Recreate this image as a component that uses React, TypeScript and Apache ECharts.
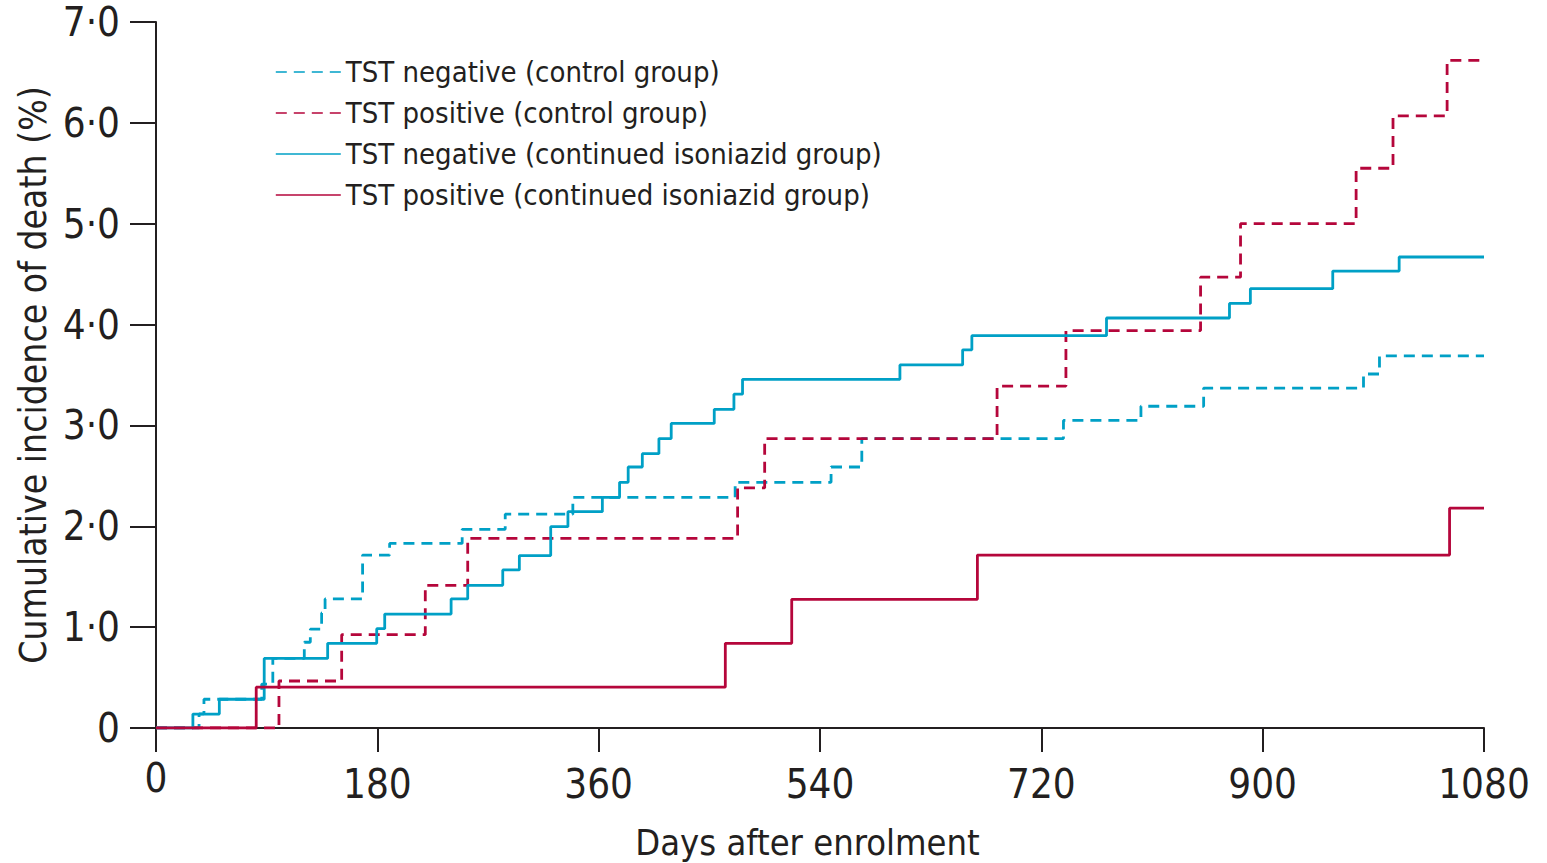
import React, { useEffect, useRef } from "react";
import * as echarts from "echarts";

const seriesNames = [
  "TST negative (control group)",
  "TST positive (control group)",
  "TST negative (continued isoniazid group)",
  "TST positive (continued isoniazid group)",
];

// [day, cumulative incidence %] — value after the step at that day
const negControl: [number, number][] = [
  [0, 0], [35, 0.14], [39, 0.285], [86, 0.436], [95, 0.69], [120.6, 0.85],
  [125.5, 0.98], [134.7, 1.14], [137.5, 1.28], [168, 1.715], [190, 1.83],
  [249, 1.97], [284, 2.12], [339, 2.287], [471, 2.436], [549, 2.588],
  [574, 2.87], [738, 3.05], [801, 3.19], [852, 3.37], [982, 3.51],
  [995, 3.69], [1080, 3.69],
];

const posControl: [number, number][] = [
  [0, 0], [100, 0.466], [151, 0.925], [219, 1.415], [253.5, 1.88],
  [473, 2.38], [495, 2.87], [684, 3.39], [740, 3.94], [849.5, 4.47],
  [882, 5.0], [976, 5.55], [1006, 6.07], [1050, 6.62], [1080, 6.62],
];

const negIsoniazid: [number, number][] = [
  [0, 0], [30, 0.138], [51.5, 0.285], [88, 0.69], [139.6, 0.84],
  [179.5, 0.985], [186, 1.13], [240, 1.28], [253.5, 1.415], [282, 1.567],
  [295.5, 1.71], [321, 1.996], [335, 2.145], [363, 2.287], [377, 2.436],
  [384, 2.588], [395.5, 2.72], [409, 2.87], [419, 3.02], [454, 3.16],
  [470, 3.31], [477, 3.457], [605, 3.6], [656, 3.75], [663.5, 3.89],
  [773, 4.065], [873, 4.21], [890, 4.356], [957, 4.53], [1011, 4.67],
  [1080, 4.67],
];

const posIsoniazid: [number, number][] = [
  [0, 0], [81.5, 0.405], [463, 0.84], [517, 1.276], [668, 1.715],
  [1052, 2.18], [1080, 2.18],
];

const xTicks = [0, 180, 360, 540, 720, 900, 1080];
const yTickLabels = ["0", "1·0", "2·0", "3·0", "4·0", "5·0", "6·0", "7·0"];

const BLUE = "#00a0c6";
const RED = "#b5063b";
const INK = "#231f20";
const FONT = "'DejaVu Sans Condensed', 'DejaVu Sans', sans-serif";

export default function App() {
  const ref = useRef<HTMLDivElement>(null);

  useEffect(() => {
    if (!ref.current) return;
    const prevMargin = document.body.style.margin;
    document.body.style.margin = "0";
    const chart = echarts.init(ref.current, undefined, { renderer: "svg" });

    const mk = (name: string, data: [number, number][], color: string, dashed: boolean) => ({
      name,
      type: "line",
      step: "end",
      data,
      symbol: "none",
      lineStyle: { color, width: 2.8, type: dashed ? [11, 7] : "solid" },
      itemStyle: { color },
    });

    chart.setOption({
      animation: false,
      backgroundColor: "#ffffff",
      grid: {
        left: 156,
        right: 63,
        top: 22,
        bottom: 135,
        containLabel: false,
        outerBoundsMode: "none",
      },
      legend: {
        orient: "vertical",
        left: 275,
        top: 56,
        padding: 0,
        itemWidth: 65,
        itemHeight: 14,
        itemGap: 9,
        data: seriesNames,
        lineStyle: { width: 1.6 },
        itemStyle: { color: "rgba(0,0,0,0)", borderColor: "rgba(0,0,0,0)", borderWidth: 0 },
        textStyle: { fontFamily: FONT, fontSize: 29, color: INK, lineHeight: 32 },
      },
      xAxis: {
        type: "value",
        min: 0,
        max: 1080,
        interval: 180,
        name: "Days after enrolment",
        nameLocation: "middle",
        nameGap: 96,
        nameTextStyle: { fontFamily: FONT, fontSize: 36, color: INK, padding: [0, 25, 0, 0] },
        axisLine: { lineStyle: { color: INK, width: 2 } },
        axisTick: { length: 24, lineStyle: { color: INK, width: 2 } },
        axisLabel: {
          margin: 36,
          fontFamily: FONT,
          fontSize: 40,
          color: INK,
          formatter: (v: number) => {
            const i = xTicks.indexOf(v);
            const s = i >= 0 ? String(xTicks[i]) : "";
            return v === 0 ? `{z|${s}}` : s;
          },
          rich: { z: { fontFamily: FONT, fontSize: 40, color: INK, lineHeight: 28 } },
        },
        splitLine: { show: false },
      },
      yAxis: {
        type: "value",
        min: 0,
        max: 7,
        interval: 1,
        name: "Cumulative incidence of death (%)",
        nameLocation: "middle",
        nameGap: 100,
        nameTextStyle: { fontFamily: FONT, fontSize: 37, color: INK },
        axisLine: { show: true, lineStyle: { color: INK, width: 2 } },
        axisTick: { show: true, length: 26, lineStyle: { color: INK, width: 2 } },
        axisLabel: {
          margin: 36,
          fontFamily: FONT,
          fontSize: 40,
          color: INK,
          formatter: (v: number) => yTickLabels[Math.round(v)] ?? "",
        },
        splitLine: { show: false },
      },
      series: [
        mk(seriesNames[0], negControl, BLUE, true),
        mk(seriesNames[1], posControl, RED, true),
        mk(seriesNames[2], negIsoniazid, BLUE, false),
        mk(seriesNames[3], posIsoniazid, RED, false),
      ],
    });

    return () => {
      chart.dispose();
      document.body.style.margin = prevMargin;
    };
  }, []);

  return <div ref={ref} style={{ width: 1547, height: 863 }} />;
}
